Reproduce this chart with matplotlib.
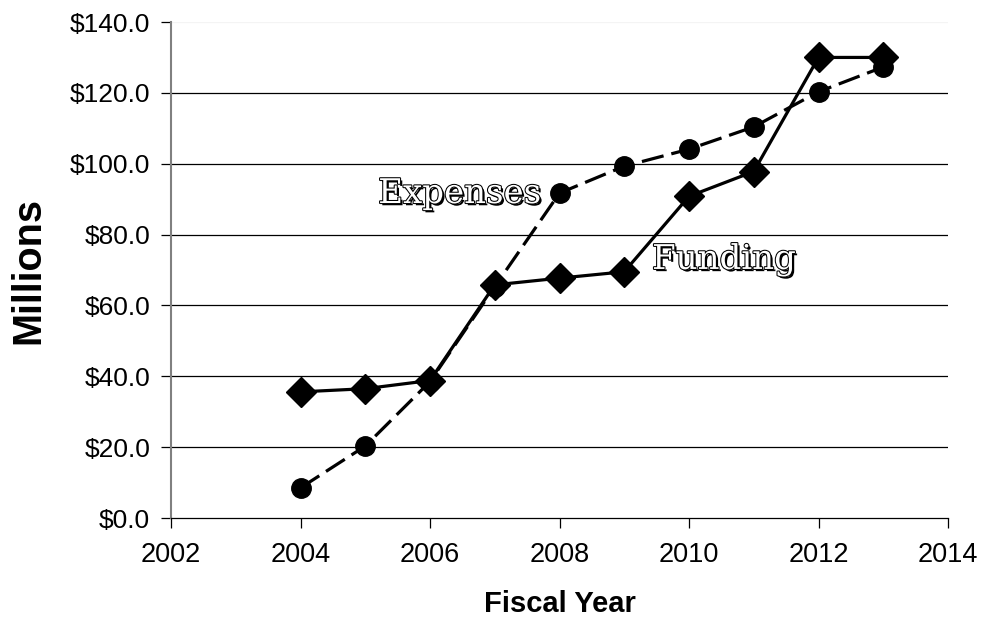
import matplotlib.pyplot as plt
import matplotlib.patheffects as pe
from matplotlib.ticker import FuncFormatter

years = [2004, 2005, 2006, 2007, 2008, 2009, 2010, 2011, 2012, 2013]
funding = [35.6, 36.5, 38.8, 65.8, 67.7, 69.5, 90.8, 97.8, 130.0, 130.0]
expenses = [8.5, 20.3, 38.5, 65.3, 91.7, 99.3, 104.1, 110.4, 120.3, 127.3]

plt.rcParams["font.family"] = ["Liberation Sans", "DejaVu Sans"]
serif = ["DejaVu Serif", "Liberation Serif"]

fig = plt.figure(figsize=(9.82, 6.19), dpi=100)
ax = fig.add_axes([171 / 982, 1 - 518 / 619, (948 - 171) / 982, (518 - 22) / 619])

# gridlines (top one nearly invisible, like the original)
for v in range(20, 140, 20):
    ax.axhline(v, color="black", linewidth=0.9, zorder=1)
ax.axhline(140, color="#f4f4f4", linewidth=0.9, zorder=1)

ax.plot(years, expenses, color="black", linewidth=2.3, dashes=(7, 2.5),
        marker="o", markersize=14, zorder=3)
ax.plot(years, funding, color="black", linewidth=2.3,
        marker="D", markersize=15, zorder=4)

# hollow, shadowed serif labels
outline = [pe.SimplePatchShadow(offset=(1.6, -1.6), shadow_rgbFace="black", alpha=1),
           pe.Stroke(linewidth=1.5, foreground="black"), pe.Normal()]
lbl_kw = dict(fontsize=24.5, family=serif, color="white", ha="left", va="baseline",
              path_effects=outline, zorder=5)
ax.text(2005.2, 88.9, "Expenses", **lbl_kw)
ax.text(2009.43, 70.3, "Funding", **lbl_kw)

ax.set_xlim(2002, 2014)
ax.set_ylim(0, 140)
ax.set_xticks(range(2002, 2015, 2))
ax.set_yticks(range(0, 141, 20))
ax.yaxis.set_major_formatter(FuncFormatter(lambda v, p: f"${v:.1f}"))

for s in ["top", "right"]:
    ax.spines[s].set_visible(False)
ax.spines["left"].set_color("#808080")
ax.spines["left"].set_linewidth(1.5)
ax.spines["bottom"].set_color("black")
ax.spines["bottom"].set_linewidth(0.9)

ax.tick_params(axis="both", direction="out", length=7, width=0.9, colors="black")
ax.tick_params(axis="y", pad=8, labelsize=19)
ax.tick_params(axis="x", pad=10, labelsize=19.5)

ax.set_ylabel("Millions", fontsize=28.5, fontweight="bold", labelpad=16)
ax.set_xlabel("Fiscal Year", fontsize=21, fontweight="bold", labelpad=16)

fig.savefig("out.png", dpi=100)
